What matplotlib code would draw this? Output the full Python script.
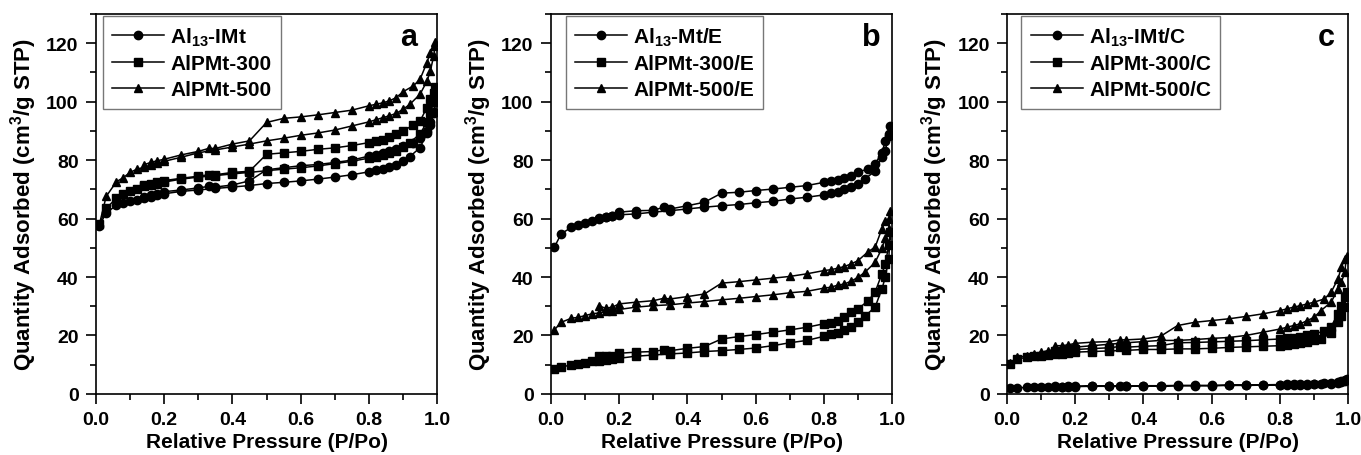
import matplotlib
matplotlib.use('Agg')
import matplotlib.pyplot as plt
from matplotlib.ticker import MultipleLocator

plt.rcParams['font.family'] = ['Liberation Sans', 'DejaVu Sans']
plt.rcParams['font.weight'] = 'bold'
plt.rcParams['axes.labelweight'] = 'bold'
plt.rcParams['mathtext.fontset'] = 'custom'
plt.rcParams['mathtext.rm'] = 'Liberation Sans:bold'
plt.rcParams['mathtext.bf'] = 'Liberation Sans:bold'
plt.rcParams['mathtext.default'] = 'regular'

# Presion relativa: rama de adsorcion y rama de desorcion
x_ads = [0.01, 0.03, 0.06, 0.08, 0.10, 0.12, 0.14, 0.16, 0.18, 0.20, 0.25, 0.30, 0.35,
         0.40, 0.45, 0.50, 0.55, 0.60, 0.65, 0.70, 0.75, 0.80, 0.82, 0.84, 0.86, 0.88,
         0.90, 0.92, 0.95, 0.97, 0.98, 0.99, 0.995]
x_des = [0.99, 0.98, 0.97, 0.95, 0.93, 0.90, 0.88, 0.86, 0.84, 0.82, 0.80, 0.75, 0.70,
         0.65, 0.60, 0.55, 0.50, 0.45, 0.40, 0.35, 0.33, 0.30, 0.25, 0.20, 0.18, 0.16, 0.14]

# Panel a
a_circ_ads = [57.5, 62.0, 64.5, 65.5, 66.0, 66.5, 67.0, 67.5, 68.0, 68.5, 69.3, 69.8, 70.3,
              70.8, 71.3, 72.0, 72.4, 72.9, 73.5, 74.2, 75.0, 76.0, 76.5, 77.0, 77.6, 78.4,
              79.8, 81.2, 84.3, 89.3, 92.0, 96.0, 100.0]
a_circ_des = [96.5, 93.0, 90.0, 87.5, 86.0, 84.9, 83.8, 83.0, 82.3, 81.8, 81.4, 80.0, 79.2,
              78.5, 78.1, 77.4, 76.7, 72.9, 71.5, 70.8, 71.0, 70.5, 69.8, 69.2, 68.5, 68.0, 67.5]
a_sq_ads = [58.0, 63.5, 67.0, 68.5, 69.5, 70.2, 71.0, 71.5, 72.0, 72.5, 73.5, 74.2, 74.7,
            75.3, 75.8, 76.4, 76.9, 77.4, 78.0, 78.8, 79.6, 80.7, 81.2, 81.8, 82.5, 83.3,
            84.5, 86.0, 89.0, 93.0, 96.0, 100.0, 105.0]
a_sq_des = [103.0, 101.0, 98.0, 93.4, 92.0, 90.0, 88.8, 87.8, 87.0, 86.5, 86.0, 85.0, 84.2,
            83.7, 83.0, 82.5, 82.0, 76.2, 75.8, 75.0, 75.0, 74.5, 73.8, 73.0, 72.5, 72.0, 71.5]
a_tri_ads = [58.0, 67.6, 72.6, 74.0, 75.8, 76.9, 77.5, 78.2, 78.9, 79.6, 81.0, 82.5, 83.5,
             84.5, 85.5, 86.6, 87.5, 88.5, 89.3, 90.3, 91.7, 93.1, 93.8, 94.5, 95.2, 96.0,
             97.4, 99.1, 102.6, 107.0, 110.5, 115.7, 120.5]
a_tri_des = [119.0, 116.8, 113.4, 107.7, 105.4, 103.4, 101.4, 100.3, 99.6, 99.1, 98.6, 97.1,
             96.3, 95.5, 94.8, 94.3, 92.9, 86.6, 85.5, 84.0, 84.0, 83.0, 81.8, 80.3, 79.8,
             79.2, 78.4]

# Panel b
b_circ_ads = [50.2, 54.8, 57.0, 57.8, 58.5, 59.3, 60.1, 60.5, 60.8, 61.3, 61.6, 62.2, 62.7,
              63.3, 63.9, 64.4, 64.8, 65.4, 65.9, 66.7, 67.3, 68.1, 68.7, 69.2, 70.0, 70.7,
              71.9, 73.6, 76.2, 81.0, 83.3, 88.4, 91.8]
b_circ_des = [89.0, 86.5, 82.5, 78.7, 77.0, 75.9, 74.7, 73.8, 73.3, 72.7, 72.4, 71.3, 70.7,
              70.1, 69.6, 69.0, 68.7, 65.6, 64.4, 63.3, 63.9, 62.8, 62.7, 62.2, 61.0, 60.5, 60.0]
b_sq_ads = [8.6, 9.1, 10.0, 10.3, 10.6, 11.1, 11.4, 11.7, 12.0, 12.2, 12.9, 13.3, 13.7,
            14.0, 14.5, 14.8, 15.2, 15.7, 16.5, 17.5, 18.3, 19.7, 20.5, 21.0, 21.8, 22.8,
            24.5, 26.6, 29.7, 35.9, 39.9, 46.2, 55.3]
b_sq_des = [50.8, 44.5, 41.1, 34.8, 31.9, 29.1, 28.0, 26.2, 25.1, 24.3, 24.0, 22.8, 21.9,
            21.1, 20.3, 19.6, 18.8, 16.2, 15.6, 14.8, 15.1, 14.5, 14.3, 13.9, 13.1, 12.9, 13.1]
b_tri_ads = [21.9, 24.5, 25.9, 26.2, 26.8, 27.4, 27.7, 28.2, 28.5, 28.9, 29.7, 30.2, 30.5,
             31.1, 31.6, 32.2, 32.7, 33.3, 33.9, 34.6, 35.1, 36.2, 36.5, 37.2, 37.6, 38.6,
             39.9, 41.6, 45.0, 49.8, 53.3, 56.5, 62.5]
b_tri_des = [59.9, 59.3, 56.5, 50.2, 48.7, 45.6, 44.5, 43.6, 43.0, 42.5, 42.2, 41.1, 40.2,
             39.6, 39.0, 38.4, 37.9, 34.2, 33.3, 32.5, 32.7, 31.9, 31.4, 30.8, 29.7, 29.3, 30.2]

# Panel c
c_circ_ads = [2.0, 2.1, 2.2, 2.3, 2.3, 2.4, 2.4, 2.5, 2.5, 2.5, 2.6, 2.6, 2.7,
              2.7, 2.7, 2.8, 2.8, 2.8, 2.9, 2.9, 3.0, 3.0, 3.1, 3.1, 3.2, 3.2,
              3.3, 3.4, 3.5, 3.8, 4.0, 4.4, 5.0]
c_circ_des = [4.8, 4.3, 4.0, 3.7, 3.6, 3.5, 3.4, 3.4, 3.3, 3.3, 3.2, 3.1, 3.0,
              3.0, 2.9, 2.9, 2.9, 2.8, 2.8, 2.7, 2.8, 2.7, 2.7, 2.6, 2.6, 2.5, 2.6]
c_sq_ads = [10.3, 12.0, 12.5, 12.8, 13.1, 13.3, 13.6, 13.8, 14.0, 14.3, 14.5, 14.7, 14.9,
            15.2, 15.2, 15.4, 15.4, 15.6, 15.9, 16.1, 16.3, 16.5, 16.9, 17.1, 17.3, 17.9,
            18.3, 18.8, 20.8, 24.5, 26.8, 29.7, 34.8]
c_sq_des = [33.0, 30.0, 27.5, 23.0, 21.5, 20.5, 20.0, 19.5, 19.2, 19.0, 18.8, 18.5, 18.2,
            18.0, 17.8, 17.6, 17.5, 16.5, 16.3, 16.0, 16.2, 15.8, 15.5, 15.2, 15.0, 14.8, 14.8]
c_tri_ads = [10.6, 12.5, 13.1, 13.7, 14.3, 14.8, 15.2, 15.4, 15.6, 16.0, 16.5, 17.0, 17.5,
             17.9, 18.3, 18.3, 18.6, 19.0, 19.3, 20.0, 21.1, 22.2, 22.8, 23.4, 24.0, 25.1,
             26.2, 28.5, 31.4, 35.9, 38.2, 41.6, 47.3]
c_tri_des = [46.2, 43.3, 39.4, 34.8, 32.5, 31.4, 30.8, 30.2, 29.7, 29.1, 28.5, 27.4, 26.5,
             25.7, 25.1, 24.5, 23.4, 19.7, 18.8, 18.5, 18.5, 17.9, 17.7, 17.3, 16.8, 16.5, 16.5]

labels_a = ['Al$_{13}$-IMt', 'AlPMt-300', 'AlPMt-500']
labels_b = ['Al$_{13}$-Mt/E', 'AlPMt-300/E', 'AlPMt-500/E']
labels_c = ['Al$_{13}$-IMt/C', 'AlPMt-300/C', 'AlPMt-500/C']
panel_letters = ['a', 'b', 'c']

paneles = [
    (labels_a, [(a_circ_ads, a_circ_des), (a_sq_ads, a_sq_des), (a_tri_ads, a_tri_des)]),
    (labels_b, [(b_circ_ads, b_circ_des), (b_sq_ads, b_sq_des), (b_tri_ads, b_tri_des)]),
    (labels_c, [(c_circ_ads, c_circ_des), (c_sq_ads, c_sq_des), (c_tri_ads, c_tri_des)]),
]
marcadores = ['o', 's', '^']

fig = plt.figure(figsize=(13.61, 4.56), dpi=100)
lefts = [0.0705, 0.4048, 0.7399]
leg_x = [0.02, 0.043, 0.042]
letter_x = [0.915, 0.938, 0.937]

for i, (etiquetas, series) in enumerate(paneles):
    ax = fig.add_axes([lefts[i], 0.134, 0.2507, 0.833])
    for (y_ads, y_des), m, lab in zip(series, marcadores, etiquetas):
        ax.plot(x_ads + x_des, y_ads + y_des, color='black', lw=1.1,
                marker=m, markersize=6, label=lab)
    ax.set_xlim(0, 1.0)
    ax.set_ylim(0, 130)
    ax.xaxis.set_minor_locator(MultipleLocator(0.1))
    ax.yaxis.set_major_locator(MultipleLocator(20))
    ax.yaxis.set_minor_locator(MultipleLocator(10))
    ax.set_xticks([0, 0.2, 0.4, 0.6, 0.8, 1.0])
    ax.set_xticklabels(['0.0', '0.2', '0.4', '0.6', '0.8', '1.0'])
    ax.tick_params(which='major', direction='out', length=7.5, width=1.2,
                   labelsize=14, pad=5)
    ax.tick_params(which='minor', direction='out', length=4, width=1.2)
    for sp in ax.spines.values():
        sp.set_linewidth(1.2)
    ax.set_xlabel('Relative Pressure (P/Po)', fontsize=15, labelpad=3)
    ax.set_ylabel('Quantity Adsorbed (cm$^3$/g STP)', fontsize=16, labelpad=5)
    leg = ax.legend(loc='upper left', bbox_to_anchor=(leg_x[i], 0.995),
                    fontsize=15, numpoints=1, handlelength=2.5, handletextpad=0.3,
                    labelspacing=0.33, borderpad=0.45, borderaxespad=0.0,
                    fancybox=False, framealpha=1)
    leg.get_frame().set_edgecolor('#777777')
    leg.get_frame().set_linewidth(1.0)
    ax.text(letter_x[i], 0.94, panel_letters[i], transform=ax.transAxes,
            fontsize=22, fontweight='bold', ha='center', va='center')

plt.savefig('out.png', dpi=100)
